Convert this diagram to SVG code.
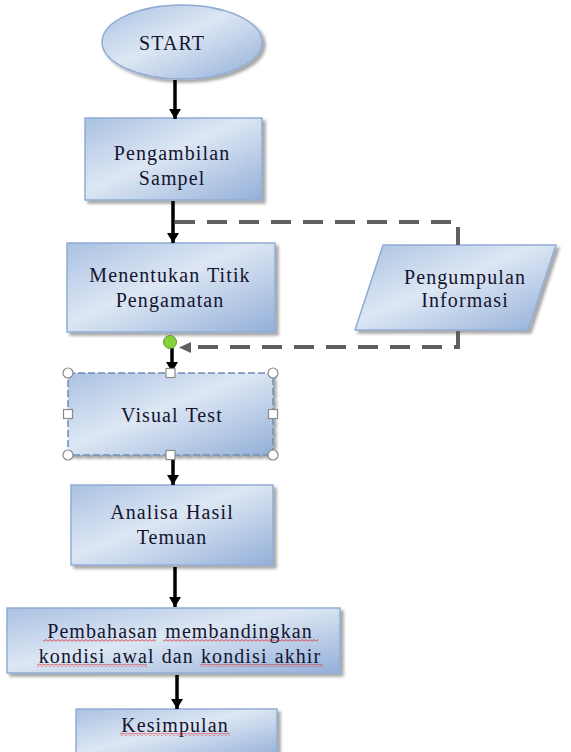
<svg xmlns="http://www.w3.org/2000/svg" width="571" height="752" viewBox="0 0 571 752">
<defs>
<linearGradient id="g" x1="0" y1="0" x2="1" y2="1">
<stop offset="0" stop-color="#aac1e2"/>
<stop offset="0.45" stop-color="#dde7f4"/>
<stop offset="1" stop-color="#93afd8"/>
</linearGradient>
<filter id="sh" x="-10%" y="-10%" width="125%" height="130%">
<feDropShadow dx="3" dy="3" stdDeviation="1.5" flood-color="#000" flood-opacity="0.35"/>
</filter>
<marker id="ah" markerUnits="userSpaceOnUse" markerWidth="14" markerHeight="14" refX="12" refY="7" orient="auto" viewBox="0 0 14 14">
<path d="M2 1 L12 7 L2 13 Z" fill="#000"/>
</marker>
<pattern id="wave" width="4" height="3" patternUnits="userSpaceOnUse">
<path d="M0 2.5 L2 0.5 L4 2.5" stroke="#e02020" fill="none" stroke-width="0.9"/>
</pattern>
<style>
.box{fill:url(#g);stroke:#90acd4;stroke-width:1.5;filter:url(#sh)}
.t{font-family:"Liberation Serif","Times New Roman",serif;font-size:20px;fill:#14142e;text-anchor:middle;letter-spacing:1.1px;word-spacing:1px}
.arr{stroke:#000;stroke-width:3.5;fill:none;marker-end:url(#ah)}
.dash{stroke:#606060;stroke-width:4;fill:none;stroke-dasharray:20 12}
.hc{fill:#fff;stroke:#8a8a8a;stroke-width:1.2}
.ul{fill:url(#wave)}
</style>
</defs>
<rect width="571" height="752" fill="#fff"/>

<g id="start">
<ellipse cx="182" cy="42" rx="80" ry="37" class="box"/>
<text class="t" x="172" y="50">START</text>
</g>

<g id="pengambilan">
<rect x="85" y="118" width="177" height="82" class="box"/>
<text class="t" x="172" y="160">Pengambilan</text>
<text class="t" x="172" y="185">Sampel</text>
</g>

<g id="menentukan">
<rect x="67" y="243" width="208" height="89" class="box"/>
<text class="t" x="170" y="282">Menentukan  Titik</text>
<text class="t" x="170" y="307">Pengamatan</text>
</g>

<g id="pengumpulan">
<polygon points="383,245 556,245 528,330 355,330" class="box"/>
<text class="t" x="465" y="284">Pengumpulan</text>
<text class="t" x="465" y="307">Informasi</text>
</g>

<g id="visual-test">
<rect x="68" y="373" width="205" height="82" class="box" style="stroke:#6e8db5;stroke-dasharray:7 3"/>
<text class="t" x="172" y="422">Visual  Test</text>
</g>

<g id="analisa">
<rect x="71" y="485" width="202" height="80" class="box"/>
<text class="t" x="172" y="519">Analisa Hasil</text>
<text class="t" x="172" y="544">Temuan</text>
</g>

<g id="pembahasan">
<rect x="7" y="608" width="333" height="65" class="box"/>
<text class="t" x="180" y="638">Pembahasan  membandingkan</text>
<text class="t" x="180" y="663">kondisi awal dan kondisi akhir</text>
<rect class="ul" x="43" y="639" width="113" height="3"/>
<rect class="ul" x="163" y="639" width="155" height="3"/>
<rect class="ul" x="37" y="664" width="110" height="3"/>
<rect class="ul" x="200" y="664" width="123" height="3"/>
</g>

<g id="kesimpulan">
<rect x="76" y="709" width="201" height="50" class="box"/>
<text class="t" x="175" y="732">Kesimpulan</text>
<rect class="ul" x="120" y="733" width="110" height="3"/>
</g>

<g id="connectors">
<line class="arr" x1="175" y1="80" x2="175" y2="119"/>
<line class="arr" x1="173" y1="201" x2="173" y2="243"/>
<line class="arr" x1="172" y1="348" x2="172" y2="372"/>
<line class="arr" x1="173" y1="457" x2="173" y2="485"/>
<line class="arr" x1="175" y1="567" x2="175" y2="607"/>
<line class="arr" x1="177" y1="675" x2="177" y2="709"/>
<path class="dash" d="M175 222 H458 V245"/>
<path class="dash" d="M458 331 V347 H188"/>
<path d="M191 342 L179 347.5 L191 353 Z" fill="#606060"/>
</g>

<g id="green-dot">
<circle cx="170" cy="342" r="6.5" fill="#84d23c" stroke="#5d9a2c" stroke-width="1"/>
</g>

<g id="selection-handles">
<circle class="hc" cx="68" cy="373" r="5"/>
<circle class="hc" cx="273" cy="373" r="5"/>
<circle class="hc" cx="68" cy="455" r="5"/>
<circle class="hc" cx="273" cy="455" r="5"/>
<rect class="hc" x="166" y="368.5" width="9" height="9"/>
<rect class="hc" x="166" y="450.5" width="9" height="9"/>
<rect class="hc" x="63.5" y="409.5" width="9" height="9"/>
<rect class="hc" x="268.5" y="409.5" width="9" height="9"/>
</g>
</svg>
